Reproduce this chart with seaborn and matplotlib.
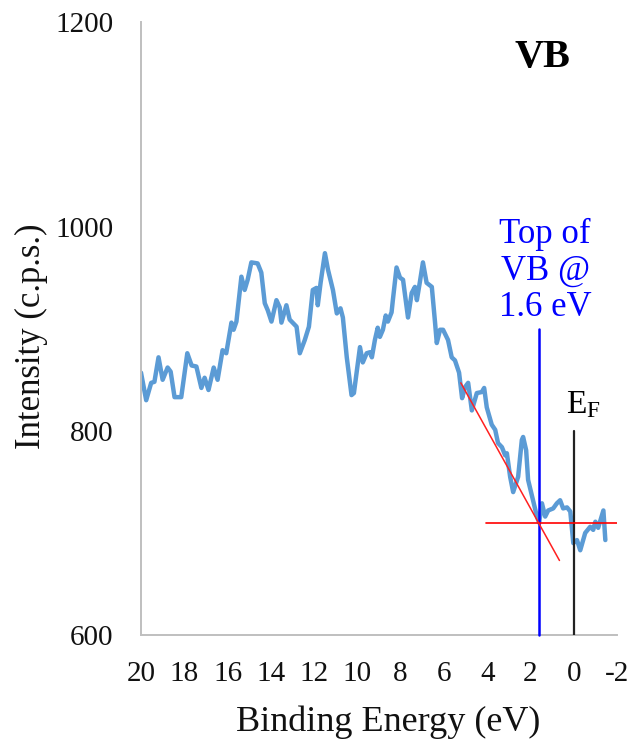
import matplotlib
matplotlib.use("Agg")
import matplotlib.pyplot as plt
from matplotlib.ticker import MultipleLocator
import pandas as pd
import seaborn as sns

# Valence-band XPS spectrum
binding_energy = [
    20.00, 19.76, 19.53, 19.38, 19.19, 19.00, 18.77, 18.63, 18.45, 18.14,
    17.86, 17.66, 17.44, 17.21, 17.06, 16.88, 16.64, 16.46, 16.23, 16.06,
    15.82, 15.72, 15.59, 15.36, 15.21, 15.07, 14.90, 14.61, 14.44, 14.28,
    14.14, 13.97, 13.74, 13.59, 13.51, 13.28, 13.13, 12.99, 12.81, 12.66,
    12.43, 12.24, 12.06, 11.89, 11.83, 11.70, 11.50, 11.36, 11.13, 10.95,
    10.78, 10.67, 10.49, 10.27, 10.16, 9.88, 9.75, 9.57, 9.42, 9.33,
    9.19, 9.06, 8.96, 8.82, 8.69, 8.59, 8.42, 8.36, 8.19, 8.03,
    7.89, 7.66, 7.49, 7.34, 7.25, 7.11, 6.97, 6.80, 6.56, 6.41,
    6.33, 6.18, 6.04, 5.81, 5.64, 5.49, 5.30, 5.16, 5.02, 4.88,
    4.71, 4.48, 4.25, 4.14, 4.02, 3.79, 3.63, 3.50, 3.32, 3.17,
    3.09, 2.94, 2.80, 2.57, 2.40, 2.34, 2.20, 2.11, 1.88, 1.70,
    1.60, 1.47, 1.32, 1.18, 0.95, 0.78, 0.63, 0.49, 0.31, 0.16,
    0.02, -0.15, -0.30, -0.53, -0.76, -0.90, -1.00, -1.13, -1.37, -1.46,
]
intensity = [
    857, 830, 847, 848, 872, 850, 862, 858, 833, 833,
    876, 864, 863, 842, 852, 840, 862, 850, 879, 876,
    906, 899, 907, 951, 938, 948, 965, 964, 955, 925,
    918, 907, 928, 921, 906, 923, 909, 906, 902, 876,
    889, 902, 938, 940, 923, 945, 974, 958, 938, 915,
    920, 911, 872, 835, 837, 882, 867, 876, 877, 872,
    889, 901, 892, 899, 913, 907, 916, 928, 960, 950,
    948, 911, 935, 941, 928, 946, 965, 945, 941, 906,
    886, 899, 899, 889, 872, 869, 857, 832, 843, 847,
    820, 837, 838, 842, 823, 806, 801, 788, 784, 776,
    778, 755, 740, 755, 791, 794, 781, 752, 732, 716,
    710, 729, 716, 722, 724, 729, 732, 724, 725, 721,
    690, 693, 683, 700, 706, 703, 711, 705, 722, 693,
]

# Valence-band edge construction
vb_top = 1.6
fermi_level = 0.0
vb_marker_top = 900
ef_marker_top = 800
background_level = 710
background_energy = [4.05, -2.0]
edge_energy = [5.22, 0.66]
edge_intensity = [847, 673]

x_ticks = [20, 18, 16, 14, 12, 10, 8, 6, 4, 2, 0, -2]
y_ticks = [600, 800, 1000, 1200]

sns.set_theme(style="white")
plt.rcParams["font.family"] = ["Liberation Serif", "DejaVu Serif"]
plt.rcParams["mathtext.fontset"] = "custom"
plt.rcParams["mathtext.rm"] = "Liberation Serif"
plt.rcParams["axes.unicode_minus"] = False

fig = plt.figure(figsize=(6.32, 7.42), dpi=100)
ax = fig.add_axes([0.2231, 0.1442, 0.7532, 0.8255])

df = pd.DataFrame({"energy": binding_energy, "intensity": intensity})
sns.lineplot(data=df, x="energy", y="intensity", ax=ax, sort=False,
             estimator=None, color="#5B9BD5", linewidth=3.2, zorder=2)

# Markers for the valence-band maximum and the Fermi level
ax.plot([vb_top, vb_top], [y_ticks[0], vb_marker_top], color="#0000FF",
        linewidth=1.8, zorder=3, clip_on=False)
ax.plot([fermi_level, fermi_level], [y_ticks[0], ef_marker_top], color="#222222",
        linewidth=1.6, zorder=3)

# Linear extrapolation of the leading edge and the background
ax.plot(background_energy, [background_level, background_level], color="#FF0000",
        linewidth=1.2, zorder=4)
ax.plot(edge_energy, edge_intensity, color="#FF2020", linewidth=1.1, zorder=4)

ax.set_xlim(20, -2)
ax.set_ylim(600, 1200)
ax.set_xticks(x_ticks)
ax.set_xticklabels([str(t) for t in x_ticks])
ax.set_yticks(y_ticks)
ax.xaxis.set_minor_locator(MultipleLocator(1))
ax.xaxis.remove_overlapping_locs = False

for side in ["top", "right"]:
    ax.spines[side].set_visible(False)
for side in ["left", "bottom"]:
    ax.spines[side].set_color("#BFBFBF")
    ax.spines[side].set_linewidth(1.4)

ax.tick_params(axis="x", which="major", direction="out", length=8, width=1.4,
               color="#BFBFBF", labelsize=21, pad=11, labelcolor="#111111")
ax.tick_params(axis="x", which="minor", direction="in", length=4.5, width=1.4,
               color="#BFBFBF")
ax.tick_params(axis="y", which="major", direction="out", length=6, width=1.4,
               color="#BFBFBF", labelsize=21, pad=14, labelcolor="#111111")

ax.set_xlabel("Binding Energy (eV)", fontsize=26, color="#111111")
ax.set_ylabel("Intensity (c.p.s.)", fontsize=25, color="#111111")
ax.xaxis.set_label_coords(0.52, -0.115)
ax.yaxis.set_label_coords(-0.195, 0.487)

ax.text(1.46, 1156, "VB", fontsize=29, fontweight="bold", ha="center",
        va="baseline", color="black")
ax.text(1.32, 912, "Top of\nVB @\n1.6 eV", fontsize=25, ha="center",
        va="baseline", color="#0000FF", linespacing=1.15)
ax.text(0.35, 817, r"$\mathregular{E_F}$", fontsize=24, ha="left",
        va="baseline", color="black")

fig.savefig("out.png", dpi=100)
